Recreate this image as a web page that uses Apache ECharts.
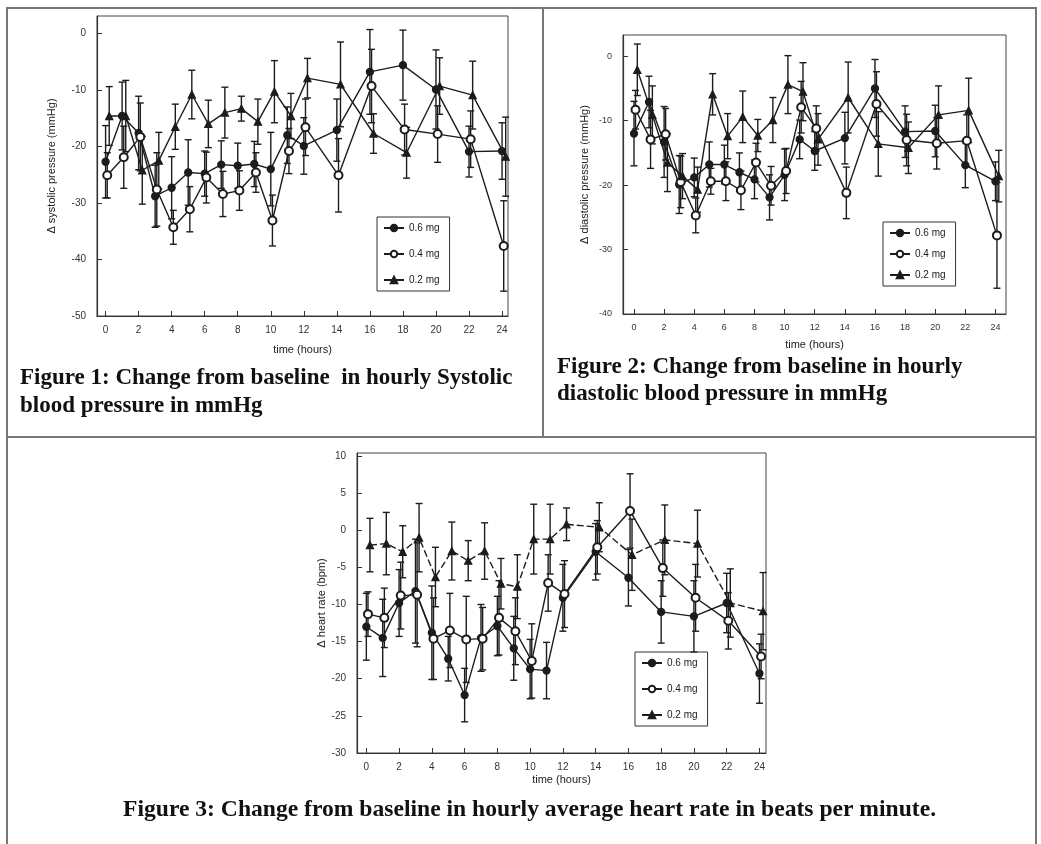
<!DOCTYPE html>
<html>
<head>
<meta charset="utf-8">
<script src="https://cdn.jsdelivr.net/npm/echarts@6/dist/echarts.min.js"></script>
<style>
  html, body { margin: 0; background: #fff; }
  #chart { width: 1041px; height: 844px; }
</style>
</head>
<body>
<div id="chart"></div>
<script>
// hours after dosing
const hours = [0, 1, 2, 3, 4, 5, 6, 7, 8, 9, 10, 11, 12, 14, 16, 18, 20, 22, 24]
const hourTicks = [0, 2, 4, 6, 8, 10, 12, 14, 16, 18, 20, 22, 24]
const doseNames = ['0.6 mg', '0.4 mg', '0.2 mg']

// Figure 1: systolic (mmHg)
const sbpTicks = [0, -10, -20, -30, -40, -50]
const sbp06 = [-22.7, -14.6, -17.6, -28.8, -27.3, -24.6, -24.8, -23.2, -23.4, -23.1, -24.0, -18.0, -19.9, -17.1, -6.8, -5.6, -9.9, -20.9, -20.8]
const sbp04 = [-25.1, -21.9, -18.3, -27.6, -34.3, -31.1, -25.5, -28.4, -27.8, -24.6, -33.1, -20.8, -16.6, -25.1, -9.3, -17.0, -17.8, -18.7, -37.6]
const sbp02 = [-14.6, -14.6, -24.2, -22.5, -16.5, -10.8, -16.0, -14.0, -13.3, -15.6, -10.3, -14.6, -7.9, -9.0, -17.7, -21.1, -9.3, -10.9, -21.8]
const sbp06Err = [6.4, 6.0, 6.5, 5.5, 5.5, 5.8, 4.0, 4.2, 4.0, 4.0, 6.5, 5.0, 5.0, 5.5, 7.5, 6.2, 7.0, 4.5, 5.0]
const sbp04Err = [4.0, 5.5, 6.0, 6.5, 3.0, 4.0, 4.5, 4.0, 3.5, 3.5, 4.5, 4.0, 5.0, 6.5, 6.5, 4.5, 5.0, 5.0, 8.0]
const sbp02Err = [5.2, 6.3, 6.0, 5.0, 4.0, 4.3, 4.2, 4.5, 2.2, 4.0, 5.5, 4.0, 3.5, 7.5, 3.5, 4.5, 5.0, 6.0, 7.0]

// Figure 2: diastolic (mmHg)
const dbpTicks = [0, -10, -20, -30, -40]
const dbp06 = [-12.0, -7.1, -13.3, -19.9, -18.8, -16.8, -16.8, -18.0, -19.1, -21.9, -18.4, -12.9, -14.7, -12.7, -5.0, -11.7, -11.6, -16.9, -19.4]
const dbp04 = [-8.3, -12.9, -12.1, -19.5, -24.7, -19.4, -19.4, -20.8, -16.5, -20.1, -17.8, -7.9, -11.2, -21.2, -7.4, -13.0, -13.5, -13.1, -27.8]
const dbp02 = [-2.1, -9.1, -16.5, -18.6, -20.7, -5.9, -12.4, -9.4, -12.3, -9.9, -4.4, -5.5, -12.9, -6.4, -13.6, -14.2, -9.1, -8.4, -18.6]
const dbp06Err = [5.0, 4.0, 5.5, 4.5, 3.0, 3.5, 3.0, 3.0, 3.0, 3.5, 4.0, 3.0, 3.0, 4.0, 4.5, 4.0, 4.0, 3.5, 3.0]
const dbp04Err = [3.0, 4.5, 4.0, 4.0, 2.7, 2.0, 3.0, 3.0, 3.0, 3.0, 3.5, 4.0, 3.5, 4.0, 5.0, 4.0, 4.0, 4.0, 8.2]
const dbp02Err = [4.0, 4.5, 4.5, 3.5, 3.5, 3.2, 3.5, 4.0, 2.5, 3.5, 4.5, 4.5, 4.0, 5.5, 5.0, 4.0, 4.5, 5.0, 4.0]

// Figure 3: heart rate (bpm)
const hrTicks = [10, 5, 0, -5, -10, -15, -20, -25, -30]
const hr06 = [-13.0, -14.5, -9.8, -8.2, -13.8, -17.3, -22.2, -14.5, -12.9, -15.9, -18.7, -18.9, -9.1, -2.9, -6.4, -11.0, -11.6, -9.8, -19.3]
const hr04 = [-11.3, -11.8, -8.8, -8.7, -14.6, -13.5, -14.7, -14.6, -11.8, -13.6, -17.6, -7.1, -8.6, -2.3, 2.6, -5.1, -9.1, -12.2, -17.0]
const hr02 = [-2.0, -1.8, -2.9, -1.0, -6.3, -2.8, -4.1, -2.8, -7.2, -7.6, -1.2, -1.2, 0.8, 0.4, -3.3, -1.3, -1.8, -9.8, -10.9]
const hr06Err = [4.5, 5.2, 4.5, 7.0, 6.3, 3.0, 3.6, 4.5, 4.0, 4.3, 4.0, 3.8, 4.5, 3.8, 3.8, 4.2, 4.8, 4.0, 4.0]
const hr04Err = [3.0, 4.0, 4.5, 7.0, 5.5, 5.0, 5.8, 4.2, 5.0, 4.5, 5.0, 3.8, 4.5, 3.6, 5.0, 3.8, 4.5, 3.8, 3.0]
const hr02Err = [3.6, 4.2, 3.5, 4.6, 4.0, 3.9, 2.7, 3.8, 3.4, 4.3, 4.7, 4.7, 2.2, 3.3, 4.8, 4.7, 4.5, 4.6, 5.2]

const INK = '#1c1c1c'
const SANS = 'Liberation Sans, Arial, sans-serif'
const SERIF = 'Liberation Serif, Times New Roman, serif'

// small horizontal shift per dose so the bars don't sit on top of each other
const doseShift = [0, 0.1, 0.22]
const doseSymbols = ['circle', 'emptyCircle', 'triangle']

// error bar with caps
const errorBar = (params, api) => {
  const x = api.value(0)
  const lo = api.coord([x, api.value(1)])
  const hi = api.coord([x, api.value(2)])
  const w = 3.5
  const style = { stroke: INK, lineWidth: 1.4 }
  return {
    type: 'group',
    children: [
      { type: 'line', shape: { x1: hi[0], y1: hi[1], x2: lo[0], y2: lo[1] }, style },
      { type: 'line', shape: { x1: hi[0] - w, y1: hi[1], x2: hi[0] + w, y2: hi[1] }, style },
      { type: 'line', shape: { x1: lo[0] - w, y1: lo[1], x2: lo[0] + w, y2: lo[1] }, style }
    ]
  }
}

const buildSeries = (gi, values, errors, dashTriangle) => {
  const out = []
  values.forEach((vals, k) => {
    const xs = hours.map(h => h + doseShift[k])
    out.push({
      name: doseNames[k] + ' sd',
      type: 'custom',
      xAxisIndex: gi,
      yAxisIndex: gi,
      renderItem: errorBar,
      encode: { x: 0, y: [1, 2] },
      data: xs.map((x, i) => [x, vals[i] - errors[k][i], vals[i] + errors[k][i]]),
      silent: true,
      z: 2
    })
    out.push({
      name: doseNames[k],
      type: 'line',
      xAxisIndex: gi,
      yAxisIndex: gi,
      data: xs.map((x, i) => [x, vals[i]]),
      symbol: doseSymbols[k],
      symbolSize: k === 1 ? 8 : 7,
      showAllSymbol: true,
      lineStyle: { color: INK, width: 1.4, type: (dashTriangle && k === 2) ? [7, 3] : 'solid' },
      itemStyle: { color: INK, borderColor: INK, borderWidth: 1.3 },
      z: 3
    })
  })
  return out
}

const makeXAxis = (gi, min, max, gap, size) => ({
  gridIndex: gi,
  type: 'value',
  min, max,
  name: 'time (hours)',
  nameLocation: 'middle',
  nameGap: gap,
  nameTextStyle: { fontFamily: SANS, fontSize: 11, color: '#222' },
  axisLine: { onZero: false, lineStyle: { color: '#333', width: 1.2 } },
  axisTick: { inside: true, length: 5, customValues: hourTicks, lineStyle: { color: '#333' } },
  axisLabel: { customValues: hourTicks, margin: 9, fontFamily: SANS, fontSize: size, color: '#333' },
  splitLine: { show: false }
})

const makeYAxis = (gi, min, max, ticks, name, gap, size) => ({
  gridIndex: gi,
  type: 'value',
  min, max,
  name,
  nameLocation: 'middle',
  nameGap: gap,
  nameTextStyle: { fontFamily: SANS, fontSize: 11, color: '#222' },
  axisLine: { onZero: false, lineStyle: { color: '#333', width: 1.2 } },
  axisTick: { inside: true, length: 5, customValues: ticks, lineStyle: { color: '#333' } },
  axisLabel: { customValues: ticks, margin: 11, fontFamily: SANS, fontSize: size, color: '#333' },
  splitLine: { show: false }
})

const makeLegend = (left, top, gap) => ({
  data: doseNames,
  orient: 'vertical',
  left, top,
  itemWidth: 20,
  itemHeight: 8,
  itemGap: gap,
  padding: [6, 10, 6, 6],
  borderColor: '#333',
  borderWidth: 1,
  selectedMode: false,
  textStyle: { fontFamily: SANS, fontSize: 10, color: '#222' }
})

const captionStyle = { fontFamily: SERIF, fontWeight: 'bold', fontSize: 23, fill: '#111' }

const chart = echarts.init(document.getElementById('chart'))

chart.setOption({
  animation: false,
  backgroundColor: '#fff',
  grid: [
    { left: 97, top: 16, width: 411, height: 300, show: true, borderColor: '#444', borderWidth: 1 },
    { left: 623, top: 35, width: 383, height: 279, show: true, borderColor: '#444', borderWidth: 1 },
    { left: 357, top: 453, width: 409, height: 300, show: true, borderColor: '#444', borderWidth: 1 }
  ],
  xAxis: [
    makeXAxis(0, -0.52, 24.36, 28, 10),
    makeXAxis(1, -0.73, 24.7, 25, 9),
    makeXAxis(2, -0.57, 24.4, 21, 10)
  ],
  yAxis: [
    makeYAxis(0, -50, 3.1, sbpTicks, 'Δ systolic pressure (mmHg)', 40, 10),
    makeYAxis(1, -40, 3.3, dbpTicks, 'Δ diastolic pressure (mmHg)', 33, 9),
    makeYAxis(2, -30, 10.4, hrTicks, 'Δ heart rate (bpm)', 27, 10)
  ],
  legend: [
    makeLegend(377, 217, 16),
    makeLegend(883, 222, 11),
    makeLegend(635, 652, 16)
  ],
  series: [
    ...buildSeries(0, [sbp06, sbp04, sbp02], [sbp06Err, sbp04Err, sbp02Err], false),
    ...buildSeries(1, [dbp06, dbp04, dbp02], [dbp06Err, dbp04Err, dbp02Err], false),
    ...buildSeries(2, [hr06, hr04, hr02], [hr06Err, hr04Err, hr02Err], true)
  ],
  graphic: [
    // table frame around the three figures
    { type: 'rect', shape: { x: 7, y: 8, width: 1029, height: 850 }, style: { fill: null, stroke: '#777', lineWidth: 2 }, silent: true },
    { type: 'line', shape: { x1: 7, y1: 437, x2: 1036, y2: 437 }, style: { stroke: '#777', lineWidth: 2 }, silent: true },
    { type: 'line', shape: { x1: 543, y1: 8, x2: 543, y2: 437 }, style: { stroke: '#777', lineWidth: 2 }, silent: true },
    // captions
    { type: 'text', left: 20, top: 364, style: { ...captionStyle, text: 'Figure 1: Change from baseline  in hourly Systolic\nblood pressure in mmHg', lineHeight: 28 } },
    { type: 'text', left: 557, top: 354, style: { ...captionStyle, text: 'Figure 2: Change from baseline in hourly\ndiastolic blood pressure in mmHg', lineHeight: 27 } },
    { type: 'text', left: 123, top: 798, style: { ...captionStyle, fontSize: 23.6, text: 'Figure 3: Change from baseline in hourly average heart rate in beats per minute.' } }
  ]
})
</script>
</body>
</html>
